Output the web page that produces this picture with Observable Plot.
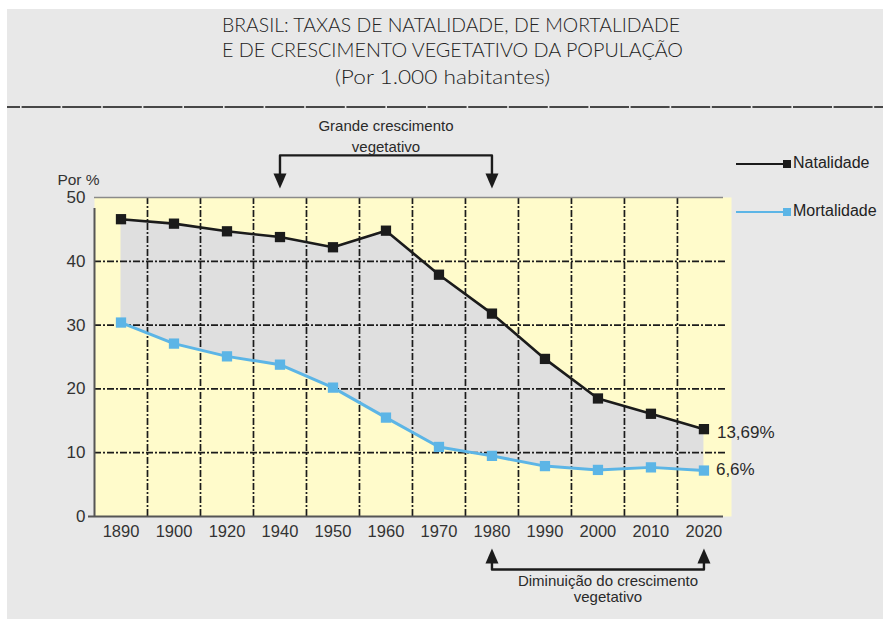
<!DOCTYPE html>
<html><head><meta charset="utf-8">
<script src="https://cdn.jsdelivr.net/npm/d3@7"></script>
<script src="https://cdn.jsdelivr.net/npm/@observablehq/plot@0.6"></script>
<style>
html,body{margin:0;padding:0;background:#fff;}
#wrap{position:absolute;left:7px;top:9px;width:876px;height:610px;background:#e8e8e8;overflow:hidden;font-family:"Liberation Sans",Arial,sans-serif;}
.tl{position:absolute;white-space:nowrap;color:#222;font-family:Lato,"Liberation Sans",Arial,sans-serif;font-weight:300;font-size:20px;line-height:20px;transform-origin:0 0;}
#sep{position:absolute;left:0;top:96px;}
#chart{position:absolute;left:0;top:101px;}
.lg{position:absolute;left:729px;height:20px;width:150px;}
.lg .ln{position:absolute;left:0;width:50px;top:9px;height:2.5px;}
.lg .sq{position:absolute;left:47px;top:6.5px;width:7.5px;height:7.5px;}
.lg .tx{position:absolute;left:57px;top:0;font-size:16px;line-height:18px;color:#222;}
</style></head>
<body>
<div id="wrap">
  <div id="title"></div>
  <svg id="sep" width="876" height="4"><line x1="0" x2="876" y1="2" y2="2" stroke="#474747" stroke-width="2.2" stroke-dasharray="39,1.6" stroke-dashoffset="26"/></svg>
  <div id="chart"></div>
  <div id="legend"></div>
</div>
<script>
// ---- data ----
const titleLines = ["BRASIL: TAXAS DE NATALIDADE, DE MORTALIDADE", "E DE CRESCIMENTO VEGETATIVO DA POPULAÇÃO", "(Por 1.000 habitantes)"];
const years = ["1890","1900","1920","1940","1950","1960","1970","1980","1990","2000","2010","2020"];
const natalidade = [46.6, 45.9, 44.7, 43.8, 42.2, 44.8, 37.9, 31.8, 24.7, 18.5, 16.1, 13.69];
const mortalidade = [30.4, 27.1, 25.1, 23.8, 20.2, 15.5, 10.9, 9.5, 7.9, 7.3, 7.7, 7.2];
const yTicks = [0, 10, 20, 30, 40, 50];
const yLabel = "Por %";
const seriesNames = ["Natalidade", "Mortalidade"];
const endLabels = ["13,69%", "6,6%"];
const topNote = ["Grande crescimento", "vegetativo"];
const topSpan = ["1940", "1980"];
const bottomNote = ["Diminuição do crescimento", "vegetativo"];
const bottomSpan = ["1980", "2020"];

// ---- styles ----
const BLACK = "#1b1b1b", BLUE = "#5cb5e6", YELLOW = "#fffbcb", FILL = "#dfdfdf";
const FONT = "Liberation Sans, Arial, sans-serif";

// ---- title ----
const title = document.getElementById("title");
const tl = [{left: 214.7, top: 5, w: 458}, {left: 214.7, top: 30, w: 461}, {left: 328, top: 57, w: 215}];
titleLines.forEach((t, k) => {
  const s = document.createElement("div");
  s.className = "tl"; s.textContent = t;
  s.style.left = tl[k].left + "px"; s.style.top = tl[k].top + "px";
  title.appendChild(s);
  const w = s.getBoundingClientRect().width;
  s.style.transform = `scaleX(${tl[k].w / w})`;
});

// ---- legend ----
const legend = document.getElementById("legend");
[[seriesNames[0], BLACK, 144.5], [seriesNames[1], BLUE, 192.7]].forEach(([name, c, top]) => {
  const d = document.createElement("div");
  d.className = "lg"; d.style.top = top + "px";
  d.innerHTML = `<div class="ln" style="background:${c}"></div><div class="sq" style="background:${c}"></div><div class="tx">${name}</div>`;
  legend.appendChild(d);
});

// ---- table ----
const rows = years.map((y, i) => ({i, year: y, nat: natalidade[i], mort: mortalidade[i]}));
const idx = y => years.indexOf(y);
const last = rows[rows.length - 1];

const arrowDown = {draw(ctx) { ctx.moveTo(0, 0); ctx.lineTo(-6.5, -15); ctx.lineTo(6.5, -15); ctx.closePath(); }};
const arrowUp = {draw(ctx) { ctx.moveTo(0, 0); ctx.lineTo(-6.5, 15); ctx.lineTo(6.5, 15); ctx.closePath(); }};

const topY = 56.6, topTip = 51.4, botY = -8.3, botTip = -5.0;
const topBracket = [
  {x: idx(topSpan[0]), y: topTip + 1}, {x: idx(topSpan[0]), y: topY},
  {x: idx(topSpan[1]), y: topY}, {x: idx(topSpan[1]), y: topTip + 1}
];
const botBracket = [
  {x: idx(bottomSpan[0]), y: botTip - 1}, {x: idx(bottomSpan[0]), y: botY},
  {x: idx(bottomSpan[1]), y: botY}, {x: idx(bottomSpan[1]), y: botTip - 1}
];
const topMid = (idx(topSpan[0]) + idx(topSpan[1])) / 2;
const botMid = (idx(bottomSpan[0]) + idx(bottomSpan[1])) / 2;

const gridX = d3.range(years.length - 1).map(i => i + 0.5);
const dash = "7,2,2,2";

const chart = Plot.plot({
  width: 876, height: 509,
  marginLeft: 87, marginRight: 152, marginTop: 87, marginBottom: 103,
  style: {fontFamily: FONT, background: "transparent", overflow: "visible"},
  x: {type: "linear", domain: [-0.5, 11.52], axis: null},
  y: {domain: [0, 50], axis: null},
  marks: [
    Plot.frame({fill: YELLOW, stroke: "none"}),
    Plot.areaY(rows, {x: "i", y1: "mort", y2: "nat", fill: FILL}),
    Plot.ruleX(gridX, {y1: 0, y2: 50, stroke: BLACK, strokeWidth: 1.7, strokeDasharray: dash}),
    Plot.ruleY(yTicks.filter(t => t > 0 && t < 50), {stroke: BLACK, strokeWidth: 1.8, strokeDasharray: dash, insetRight: 6}),
    Plot.ruleY([50], {stroke: "#8a8a8a", strokeWidth: 1.5, insetRight: 8}),
    Plot.ruleY([0], {stroke: "#555", strokeWidth: 2, insetLeft: -6, insetRight: 8}),
    Plot.ruleX([-0.5], {y1: 0, y2: 50, stroke: "#555", strokeWidth: 2, insetBottom: -11}),
    Plot.axisY({ticks: yTicks, tickSize: 0, tickPadding: 9, fontSize: 17, fill: "#333", label: null}),
    Plot.axisX({ticks: d3.range(years.length), tickFormat: i => years[i], tickSize: 0, tickPadding: 9, fontSize: 16.5, fill: "#333", label: null}),
    Plot.text([yLabel], {frameAnchor: "top-left", dx: -16, dy: -24, fontSize: 15.5, fill: "#333", textAnchor: "middle"}),
    Plot.line(rows, {x: "i", y: "mort", stroke: BLUE, strokeWidth: 3}),
    Plot.dot(rows, {x: "i", y: "mort", symbol: "square", r: 5.8, fill: BLUE}),
    Plot.line(rows, {x: "i", y: "nat", stroke: BLACK, strokeWidth: 2.6}),
    Plot.dot(rows, {x: "i", y: "nat", symbol: "square", r: 5.8, fill: BLACK}),
    Plot.text([last], {x: "i", y: "nat", text: () => endLabels[0], dx: 13, dy: 3, textAnchor: "start", fontSize: 17, fill: "#2a2a2a"}),
    Plot.text([last], {x: "i", y: "mort", text: () => endLabels[1], dx: 12, dy: -1, textAnchor: "start", fontSize: 17, fill: "#2a2a2a"}),
    // top annotation
    Plot.line(topBracket, {x: "x", y: "y", stroke: BLACK, strokeWidth: 2.4, clip: false}),
    Plot.dot([topBracket[0], topBracket[3]], {x: "x", y: topTip, symbol: arrowDown, fill: BLACK, r: 5}),
    Plot.text(topNote, {x: topMid, y: (d, k) => [61.1, 57.9][k], fontSize: 15, fill: "#2a2a2a", lineAnchor: "middle"}),
    // bottom annotation
    Plot.line(botBracket, {x: "x", y: "y", stroke: BLACK, strokeWidth: 2.4}),
    Plot.dot([botBracket[0], botBracket[3]], {x: "x", y: botTip, symbol: arrowUp, fill: BLACK, r: 5}),
    Plot.text(bottomNote, {x: botMid, y: (d, k) => [-10.1, -12.6][k], dx: 10, fontSize: 15, fill: "#2a2a2a", lineAnchor: "middle"})
  ]
});
document.getElementById("chart").appendChild(chart);
</script>
</body></html>
